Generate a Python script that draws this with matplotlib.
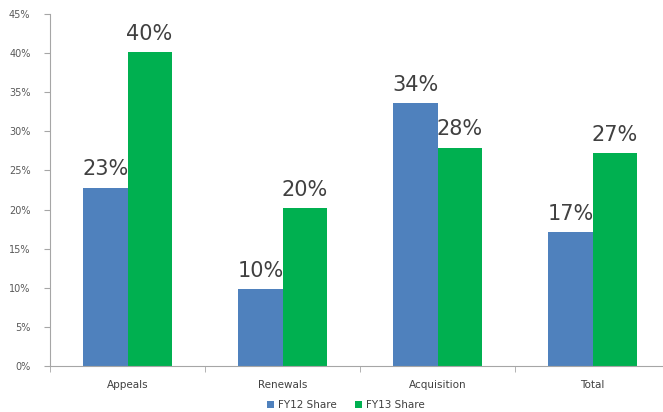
import numpy as np
import matplotlib.pyplot as plt
from matplotlib.ticker import PercentFormatter

categories = ["Appeals", "Renewals", "Acquisition", "Total"]
fy12 = [0.228, 0.098, 0.336, 0.171]
fy13 = [0.401, 0.202, 0.279, 0.272]
fy12_labels = ["23%", "10%", "34%", "17%"]
fy13_labels = ["40%", "20%", "28%", "27%"]

blue = "#4F81BD"
green = "#00B050"
gray = "#A6A6A6"

fig = plt.figure(figsize=(6.63, 4.12), dpi=100)
ax = fig.add_axes([50 / 663, 46 / 412, 620 / 663, 352 / 412])

x = np.arange(len(categories))
w = 0.284
b1 = ax.bar(x - w / 2, fy12, w, color=blue, label="FY12 Share")
b2 = ax.bar(x + w / 2, fy13, w, color=green, label="FY13 Share")

# value labels above each bar
for bars, labels in [(b1, fy12_labels), (b2, fy13_labels)]:
    for bar, lab in zip(bars, labels):
        ax.annotate(lab, (bar.get_x() + bar.get_width() / 2, bar.get_height()),
                    xytext=(0, 6), textcoords="offset points",
                    ha="center", va="bottom", fontsize=15, color="#404040")

ax.set_ylim(0, 0.45)
ax.set_yticks(np.arange(0, 0.46, 0.05))
ax.yaxis.set_major_formatter(PercentFormatter(1.0, decimals=0))
ax.set_xlim(-0.5, 3.5)
ax.set_xticks(x)
ax.set_xticklabels(categories)
ax.set_xticks(np.arange(-0.5, 4, 1), minor=True)
ax.tick_params(axis="x", which="major", length=0, labelsize=7.5, colors="#404040", pad=10)
ax.tick_params(axis="x", which="minor", length=4, color=gray)
ax.tick_params(axis="y", length=4, color=gray, labelsize=7, labelcolor="#595959", pad=10)

for s in ["top", "right"]:
    ax.spines[s].set_visible(False)
ax.spines["left"].set_color(gray)
ax.spines["bottom"].set_color(gray)

ax.legend(loc="upper center", bbox_to_anchor=(296 / 620, -0.07), ncol=2, frameon=False,
          fontsize=7.5, handlelength=0.6, handleheight=0.6, handletextpad=0.4,
          columnspacing=1.8, labelcolor="#404040")

fig.savefig("out.png", dpi=100)
